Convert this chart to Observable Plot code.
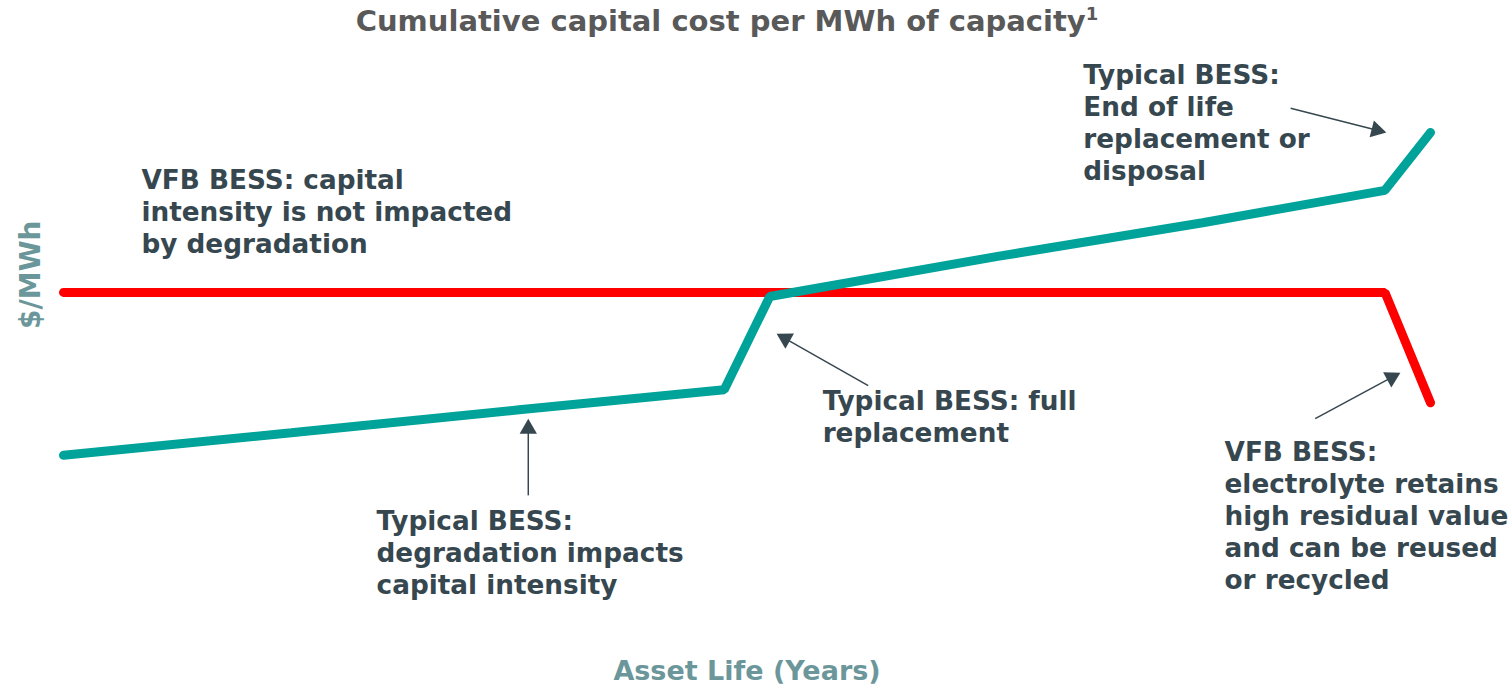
<!DOCTYPE html>
<html>
<head>
<meta charset="utf-8">
<script src="https://cdn.jsdelivr.net/npm/d3@7"></script>
<script src="https://cdn.jsdelivr.net/npm/@observablehq/plot@0.6"></script>
<style>
  html, body { margin: 0; padding: 0; background: #fff; }
  body { width: 1509px; height: 689px; overflow: hidden; font-family: "DejaVu Sans", Verdana, sans-serif; }
  #title { height: 50px; box-sizing: border-box; padding-top: 3px; width: 1454px; text-align: center;
           font-size: 29px; font-weight: bold; color: #595959; white-space: nowrap; line-height: 36px; }
  #title sup { font-size: 18px; vertical-align: 11px; line-height: 0; }
  #xlabel { height: 49px; width: 1494px; text-align: center; font-size: 27px; font-weight: bold;
            color: #6b979b; box-sizing: border-box; padding-top: 15px; line-height: 32px; white-space: nowrap; }
  #chart svg { display: block; }
</style>
</head>
<body>
<div id="title">Cumulative capital cost per MWh of capacity<sup>1</sup></div>
<div id="chart"></div>
<div id="xlabel">Asset Life (Years)</div>
<script>
// ---- data (years vs. relative $/MWh index) ----
const typicalYears = [0, 5, 10, 14.5, 15.5, 20.5, 25, 29, 30];
const typicalCost  = [31.4, 35.2, 39.1, 42.5, 58.3, 65.1, 70.8, 76.3, 86.1];
const vfbYears = [0, 29, 30];
const vfbCost  = [59.0, 59.0, 40.3];

const noteText = [
  "VFB BESS: capital\nintensity is not impacted\nby degradation",
  "Typical BESS:\ndegradation impacts\ncapital intensity",
  "Typical BESS: full\nreplacement",
  "Typical BESS:\nEnd of life\nreplacement or\ndisposal",
  "VFB BESS:\nelectrolyte retains\nhigh residual value\nand can be reused\nor recycled"
];
const noteX = [1.71, 6.87, 16.66, 22.38, 25.48];
const noteY = [80.3, 22.5, 43.0, 98.1, 34.2];

// arrows: tail -> tip
const arrowX1 = [10.2, 17.66, 26.93, 27.47];
const arrowY1 = [24.6, 43.2, 90.2, 37.6];
const arrowX2 = [10.2, 15.65, 29.03, 29.34];
const arrowY2 = [37.6, 52.0, 86.1, 45.4];

const yLabel = "$/MWh";
const yLabelAt = [-0.72, 62.0];

// ---- build ----
const W = 1509, H = 590, ML = 63, MR = 79;
const xDomain = [0, 30], yDomain = [0, 100];
const xs = Plot.scale({x: {domain: xDomain, range: [ML, W - MR]}});
const ys = Plot.scale({y: {domain: yDomain, range: [H, 0]}});

const typical = typicalYears.map((x, i) => ({x, y: typicalCost[i]}));
const vfb = vfbYears.map((x, i) => ({x, y: vfbCost[i]}));
const notes = noteText.map((t, i) => ({t, x: noteX[i], y: noteY[i]}));

const headY = 5; // triangle half-height unit (px)
const arrows = arrowX1.map((x1, i) => {
  const px1 = xs.apply(x1), py1 = ys.apply(arrowY1[i]);
  const px2 = xs.apply(arrowX2[i]), py2 = ys.apply(arrowY2[i]);
  const dx = px2 - px1, dy = py2 - py1, L = Math.hypot(dx, dy);
  const ux = dx / L, uy = dy / L;
  const cx = px2 - ux * 2 * headY, cy = py2 - uy * 2 * headY;
  const ex = px2 - ux * 2.5 * headY, ey = py2 - uy * 2.5 * headY;
  return {
    x1, y1: arrowY1[i],
    x2: xs.invert(ex), y2: ys.invert(ey),
    hx: xs.invert(cx), hy: ys.invert(cy),
    angle: Math.atan2(dx, -dy) * 180 / Math.PI
  };
});
const dark = "#36474f";
const r = Math.sqrt(headY * headY * 3 * Math.sqrt(3) / Math.PI);

const plot = Plot.plot({
  width: W, height: H,
  marginLeft: ML, marginRight: MR, marginTop: 0, marginBottom: 0,
  x: {domain: xDomain, axis: null},
  y: {domain: yDomain, axis: null},
  style: {fontFamily: "'DejaVu Sans', Verdana, sans-serif", background: "white"},
  marks: [
    Plot.line(vfb, {x: "x", y: "y", stroke: "#ff0000", strokeWidth: 9, strokeLinecap: "round", strokeLinejoin: "miter"}),
    Plot.line(typical, {x: "x", y: "y", stroke: "#00a39a", strokeWidth: 9, strokeLinecap: "round", strokeLinejoin: "miter"}),
    Plot.link(arrows, {x1: "x1", y1: "y1", x2: "x2", y2: "y2", stroke: dark, strokeWidth: 1.5}),
    Plot.dot(arrows, {x: "hx", y: "hy", symbol: "triangle", r, fill: dark, stroke: "none", rotate: "angle"}),
    Plot.text(notes, {x: "x", y: "y", text: "t", textAnchor: "start", lineAnchor: "top", lineHeight: 1.217,
      fontSize: 26.3, fontWeight: "bold", fill: dark}),
    Plot.text([yLabel], {x: [yLabelAt[0]], y: [yLabelAt[1]], text: d => d, rotate: -90, fontSize: 28,
      fontWeight: "bold", fill: "#6b979b", textAnchor: "middle", lineAnchor: "middle"})
  ]
});
document.getElementById("chart").appendChild(plot);
</script>
</body>
</html>
